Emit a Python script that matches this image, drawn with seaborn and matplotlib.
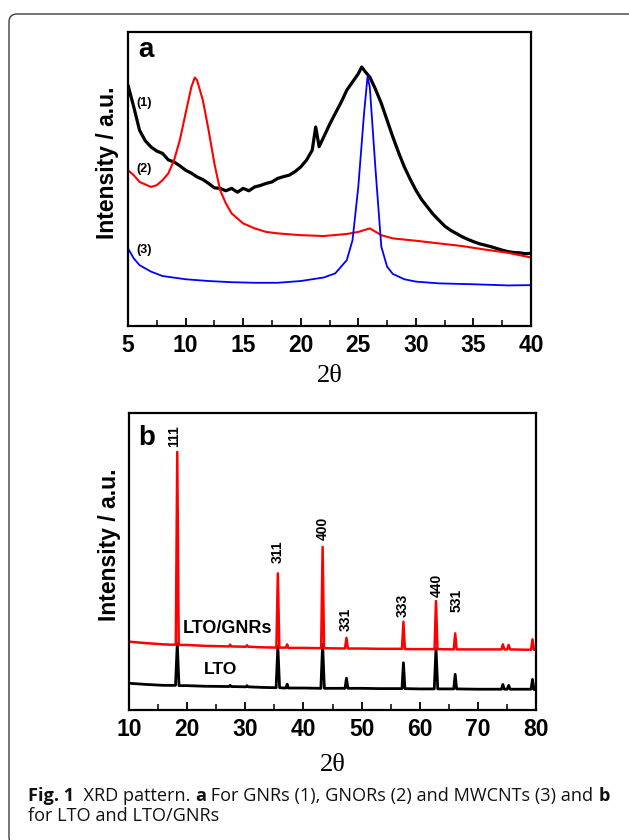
import matplotlib
matplotlib.use("Agg")
import matplotlib.pyplot as plt
import matplotlib.transforms as mtransforms
from matplotlib.patches import FancyBboxPatch
import seaborn as sns

# ---------------- Panel a data (2θ, intensity a.u.) ----------------
gnr_x = [5, 5.5, 6, 6.5, 7, 7.5, 8, 8.5, 9, 9.5, 10, 10.5, 11, 11.5, 12, 12.5, 13, 13.5, 14, 14.5,
         15, 15.5, 16, 16.5, 17, 17.5, 18, 18.5, 19, 19.5, 20, 20.5, 21, 21.3, 21.6, 22, 22.5, 23,
         23.5, 24, 24.5, 25, 25.3, 25.6, 26, 26.5, 27, 27.5, 28, 28.5, 29, 29.5, 30, 30.5, 31, 31.5,
         32, 32.5, 33, 33.5, 34, 34.5, 35, 35.5, 36, 36.5, 37, 37.5, 38, 38.5, 39, 39.5, 40]
gnr_y = [81.9, 74.5, 66.6, 63.0, 60.9, 59.5, 58.7, 56.5, 55.8, 54.5, 53.0, 52.0, 50.7, 49.8, 48.5, 47.0, 46.8, 46.0, 46.8, 45.5,
         46.8, 46.0, 47.3, 47.8, 48.5, 49.0, 50.2, 50.8, 51.3, 52.5, 54.1, 56.4, 59.8, 67.7, 61.0, 64.3, 68.5, 72.3,
         76.0, 80.2, 83.0, 85.8, 88.1, 86.5, 84.7, 80.5, 75.7, 70.0, 64.3, 59.0, 54.1, 50.0, 46.2, 43.0, 40.5, 38.0,
         36.0, 34.0, 32.6, 31.5, 30.4, 29.5, 28.7, 28.0, 27.5, 27.0, 26.4, 25.8, 25.3, 25.0, 24.9, 24.6, 24.7]

gnor_x = [5, 5.5, 6, 7, 7.5, 8, 8.5, 9, 9.5, 10, 10.5, 10.8, 11, 11.5, 12, 12.5, 13, 13.5, 14, 15, 16,
          17, 18, 20, 22, 24, 25, 26, 27, 28, 30, 32, 34, 36, 38, 40]
gnor_y = [53.0, 51.3, 49.0, 47.3, 47.9, 49.6, 51.9, 56.4, 63.2, 72.3, 81.3, 84.5, 83.6, 76.8, 66.6, 55.3, 46.2, 41.7, 38.3, 34.9, 33.2,
          32.0, 31.5, 30.9, 30.6, 31.3, 32.0, 33.2, 30.9, 29.8, 29.0, 28.1, 27.2, 26.0, 24.9, 23.3]

mwcnt_x = [5, 5.5, 6, 7, 8, 10, 12, 14, 16, 18, 20, 22, 23, 24, 24.5, 25, 25.5, 25.8, 26, 26.5, 27,
           27.5, 28, 29, 30, 32, 35, 38, 40]
mwcnt_y = [26.4, 23.0, 20.7, 18.5, 17.0, 15.9, 15.3, 14.9, 14.7, 14.7, 15.3, 16.5, 17.9, 22.4, 29.2, 47.3, 72.3, 84.7, 81.3, 53.0, 27.0,
           20.2, 17.7, 15.9, 15.1, 14.5, 14.2, 13.8, 13.9]

curve_labels_a = ["(1)", "(2)", "(3)"]
curve_label_y_a = [75.9, 53.3, 26.0]

# ---------------- Panel b data ----------------
lto_gnr_x = [10, 13, 16, 17.0, 18.05, 18.3, 18.55, 20, 23, 27.2, 27.4, 27.6, 30.1, 30.3, 30.5, 33,
             35.35, 35.6, 35.85, 37.0, 37.2, 37.4, 40, 43.05, 43.3, 43.55, 47.15, 47.4, 47.65, 50, 53,
             56.95, 57.2, 57.45, 60, 62.55, 62.8, 63.05, 65.85, 66.1, 66.35, 70, 74.05, 74.3, 74.55,
             75.05, 75.3, 75.55, 78, 79.15, 79.4, 79.65, 80]
lto_gnr_y = [23.0, 22.5, 22.1, 22.0, 22.0, 86.9, 21.9, 21.9, 21.6, 21.4, 22.0, 21.4, 21.3, 21.8, 21.3, 21.1,
             21.0, 46.0, 21.0, 21.0, 22.1, 20.9, 20.9, 20.8, 54.9, 20.8, 20.7, 24.3, 20.7, 20.7, 20.6,
             20.6, 29.7, 20.5, 20.5, 20.5, 36.7, 20.5, 20.4, 25.8, 20.4, 20.4, 20.4, 22.1, 20.4,
             20.4, 21.9, 20.4, 20.3, 20.3, 23.8, 20.3, 20.3]

lto_x = [10, 13, 16, 17.0, 18.0, 18.3, 18.6, 20, 23, 27.2, 27.4, 27.6, 30.1, 30.3, 30.5, 33,
         35.3, 35.6, 35.9, 37.0, 37.2, 37.4, 40, 43.0, 43.3, 43.6, 47.15, 47.4, 47.65, 50, 53,
         56.95, 57.2, 57.45, 60, 62.5, 62.8, 63.1, 65.85, 66.1, 66.35, 70, 74.05, 74.3, 74.55,
         75.05, 75.3, 75.55, 78, 79.15, 79.4, 79.65, 80]
lto_y = [9.0, 8.6, 8.3, 8.3, 8.3, 22.4, 8.2, 8.2, 8.0, 7.9, 8.3, 7.9, 7.8, 8.2, 7.8, 7.6,
         7.5, 21.5, 7.5, 7.4, 8.7, 7.4, 7.4, 7.3, 22.1, 7.3, 7.3, 10.7, 7.3, 7.3, 7.2,
         7.2, 15.9, 7.2, 7.1, 7.1, 20.7, 7.1, 7.1, 12.0, 7.1, 7.0, 7.0, 8.6, 7.0,
         7.0, 8.3, 7.0, 7.0, 7.0, 10.3, 6.9, 6.9]

hkl_labels = ["111", "311", "400", "331", "333", "440", "531"]
hkl_x = [17.75, 35.55, 43.4, 47.3, 57.05, 62.9, 66.3]
hkl_y = [88.6, 49.5, 57.4, 26.7, 31.4, 38.1, 33.1]

# ---------------- Figure ----------------
sns.set_theme(style="white")
plt.rcParams["font.family"] = ["Liberation Sans", "DejaVu Sans"]

W, H = 629, 840
fig = plt.figure(figsize=(W / 100, H / 100), dpi=100)
fig.patch.set_facecolor("white")

axa = fig.add_axes([128 / W, 1 - 326 / H, (531 - 128) / W, (326 - 32) / H])
axb = fig.add_axes([129 / W, 1 - 710 / H, (536 - 129) / W, (710 - 413) / H])

sns.lineplot(x=gnr_x, y=gnr_y, ax=axa, color="black", lw=2.3, estimator=None, sort=False)
sns.lineplot(x=gnor_x, y=gnor_y, ax=axa, color="#ff0000", lw=1.5, estimator=None, sort=False)
sns.lineplot(x=mwcnt_x, y=mwcnt_y, ax=axa, color="#0000ff", lw=1.3, estimator=None, sort=False)

sns.lineplot(x=lto_x, y=lto_y, ax=axb, color="black", lw=2.0, estimator=None, sort=False)
sns.lineplot(x=lto_gnr_x, y=lto_gnr_y, ax=axb, color="#ff0000", lw=1.8, estimator=None, sort=False)

for ax in (axa, axb):
    ax.set_ylim(0, 100)
    ax.set_yticks([])
    ax.set_facecolor("white")
    for s in ax.spines.values():
        s.set_visible(True)
        s.set_color("black")
        s.set_linewidth(1.6)
    ax.tick_params(axis="x", which="major", direction="in", bottom=True, length=6, width=1.3,
                   pad=6, labelsize=16.5, colors="black")
    ax.tick_params(axis="x", which="minor", direction="in", bottom=True, length=4, width=1.3)
    ax.set_ylabel("Intensity / a.u.", fontsize=16.5, fontweight="bold", color="black")
    ax.yaxis.label.set_va("center")
    ax.set_xlabel("2θ", fontsize=19, family=["Liberation Serif", "DejaVu Serif"], color="black")
    ax.xaxis.label.set_va("center")

axa.set_xlim(5, 40)
axa.set_xticks(list(range(5, 41, 5)))
axa.set_xticks([7.5 + 5 * i for i in range(7)], minor=True)
axb.set_xlim(10, 80)
axb.set_xticks(list(range(10, 81, 10)))
axb.set_xticks([15 + 10 * i for i in range(7)], minor=True)
for ax in (axa, axb):
    for lab in ax.get_xticklabels():
        lab.set_fontweight("bold")

axa.yaxis.set_label_coords(-0.052, 0.556)
axb.yaxis.set_label_coords(-0.049, 0.556)
axa.xaxis.set_label_coords(0.5, (326 - 376) / 294)
axb.xaxis.set_label_coords(0.5, (710 - 765) / 297)

axa.text(0.044, 0.939, "a", transform=axa.transAxes, fontsize=20, fontweight="bold",
         ha="center", va="center", color="black")
axb.text(0.0435, 0.917, "b", transform=axb.transAxes, fontsize=20, fontweight="bold",
         ha="center", va="center", color="black")

for lab, yv in zip(curve_labels_a, curve_label_y_a):
    axa.text(5.75, yv, lab, fontsize=9, fontweight="bold", ha="left", va="center", color="black")

for lab, xv, yv in zip(hkl_labels, hkl_x, hkl_y):
    axb.text(xv, yv, lab, fontsize=10, fontweight="bold", rotation=90, ha="center", va="bottom",
             color="black")

axb.text(26.9, 27.5, "LTO/GNRs", fontsize=13, fontweight="bold", ha="center", va="center", color="black")
axb.text(25.75, 13.5, "LTO", fontsize=12.6, fontweight="bold", ha="center", va="center", color="black")

# ---------------- Frame ----------------
frame = FancyBboxPatch((9, -5), 650, 831, boxstyle="round,pad=0,rounding_size=8",
                       transform=mtransforms.IdentityTransform(), fill=False,
                       edgecolor="#3c3c3c", linewidth=1.0)
fig.add_artist(frame)

# ---------------- Caption ----------------
renderer = fig.canvas.get_renderer()
cap_family = ["Open Sans", "DejaVu Sans"]


def text_width(s, size, bold):
    t1 = fig.text(0, 0, "X" + s + "X", fontsize=size, family=cap_family,
                  fontweight="bold" if bold else "normal")
    t2 = fig.text(0, 0, "XX", fontsize=size, family=cap_family,
                  fontweight="bold" if bold else "normal")
    w = t1.get_window_extent(renderer).width - t2.get_window_extent(renderer).width
    t1.remove()
    t2.remove()
    return w


line1 = [("Fig. 1", True), ("  XRD pattern. ", False), ("a", True),
         (" For GNRs (1), GNORs (2) and MWCNTs (3) and ", False), ("b", True)]
line2 = [("for LTO and LTO/GNRs", False)]

base = 10.0
natural = sum(text_width(s, base, b) for s, b in line1)
cap_size = base * 583.0 / natural


def draw_line(parts, x_px, y_px):
    x = x_px
    for s, b in parts:
        fig.text(x / W, 1 - y_px / H, s, fontsize=cap_size, family=cap_family,
                 fontweight="bold" if b else "normal", ha="left", va="center", color="#111111")
        x += text_width(s, cap_size, b)


draw_line(line1, 28, 796)
draw_line(line2, 28, 816)

fig.savefig("out.png", dpi=100)
